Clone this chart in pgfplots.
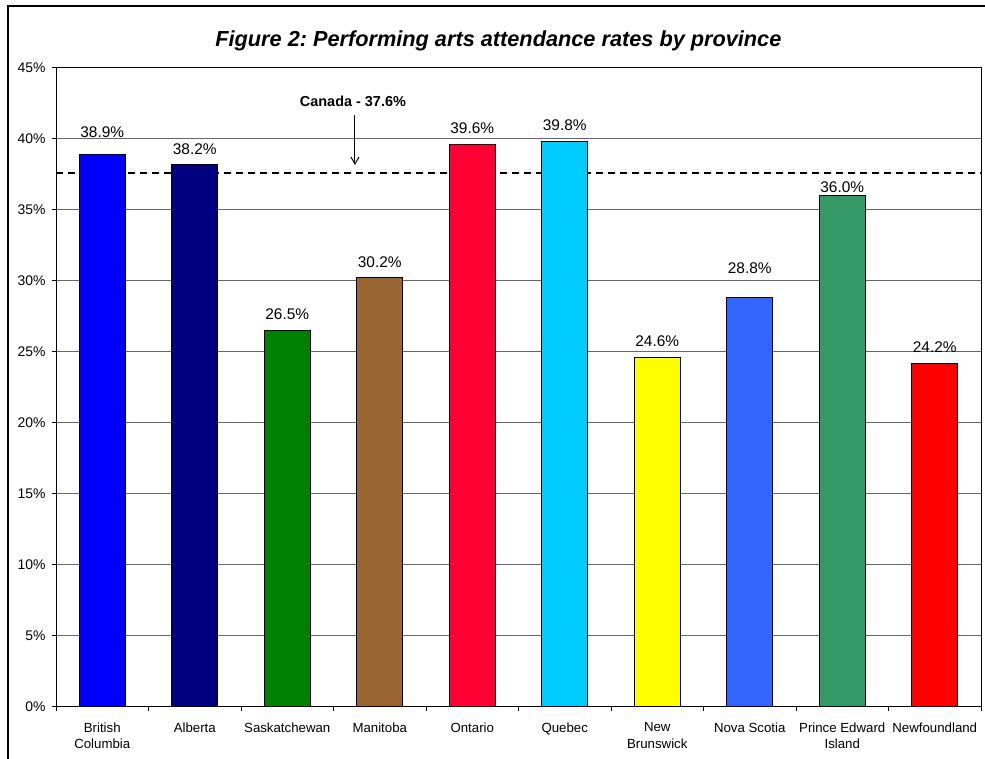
\documentclass[border=0pt]{standalone}
\usepackage{pgfplots}
\pgfplotsset{compat=1.18}
\usepackage{fontspec}
\setmainfont{Liberation Sans}
\usetikzlibrary{arrows.meta}
\definecolor{cBC}{HTML}{0000FF}
\definecolor{cAB}{HTML}{000080}
\definecolor{cSK}{HTML}{008000}
\definecolor{cMB}{HTML}{996633}
\definecolor{cON}{HTML}{FF0033}
\definecolor{cQC}{HTML}{00CCFF}
\definecolor{cNB}{HTML}{FFFF00}
\definecolor{cNS}{HTML}{3366FF}
\definecolor{cPE}{HTML}{339966}
\definecolor{cNF}{HTML}{FF0000}
\frenchspacing
\pgfkeys{/pgf/number format/assume math mode=true}
\pgfplotsset{provbar/.style 2 args={ybar, bar width=0.5, bar shift=0pt, fill=#1, draw=black, line width=1bp,
  nodes near coords={\pgfmathprintnumber[fixed,fixed zerofill,precision=1]{\pgfplotspointmeta}\%},
  nodes near coords style={font=\fontsize{15.5}{18}\selectfont, anchor=base, yshift=#2, text=black}}}
\begin{document}
\begin{tikzpicture}[x=1bp,y=1bp]
\useasboundingbox (0,0) rectangle (985,-759);
\draw[line width=2bp] (7.7,-780) -- (7.7,-6) -- (1000,-6);
\node[anchor=base, font=\fontsize{21.8}{26}\selectfont\bfseries\itshape] at (498.4,-46.7) {Figure 2: Performing arts attendance rates by province};
\begin{axis}[at={(56bp,-706.7bp)}, anchor=south west,
  width=925bp, height=639bp, scale only axis,
  xmin=-0.5, xmax=9.5, ymin=0, ymax=45,
  ytick={0,5,...,45},
  yticklabel={\pgfmathprintnumber{\tick}\%},
  xtick={0,...,9},
  xticklabels={British\\Columbia, Alberta, Saskatchewan, Manitoba, Ontario, Quebec, New\\Brunswick, Nova Scotia, Prince Edward\\Island, Newfoundland},
  minor xtick={-0.5,0.5,...,9.5},
  tick align=outside, xtick pos=bottom, ytick pos=left,
  major tick length=4bp, minor tick length=4bp,
  major x tick style={draw=none},
  minor x tick style={black, line width=1bp},
  ytick style={black, line width=1bp},
  ymajorgrids, grid style={black!60, line width=1bp},
  axis line style={black, line width=1bp},
  yticklabel style={font=\fontsize{14}{16}\selectfont, xshift=-3bp},
  xticklabel style={font=\fontsize{13.3}{16.5}\selectfont, align=center, anchor=north, yshift=-8.5bp},
  /pgf/number format/assume math mode=true,
  clip=false]
\addplot[black, line width=1.5bp, dash pattern=on 7bp off 5bp] coordinates {(-0.5,37.6) (9.5,37.6)};
\addplot[provbar={cBC}{16.7bp}] coordinates {(0,38.9)};
\addplot[provbar={cAB}{10bp}] coordinates {(1,38.2)};
\addplot[provbar={cSK}{10.7bp}] coordinates {(2,26.5)};
\addplot[provbar={cMB}{10.7bp}] coordinates {(3,30.2)};
\addplot[provbar={cON}{11bp}] coordinates {(4,39.6)};
\addplot[provbar={cQC}{11bp}] coordinates {(5,39.8)};
\addplot[provbar={cNB}{10.7bp}] coordinates {(6,24.6)};
\addplot[provbar={cNS}{24bp}] coordinates {(7,28.8)};
\addplot[provbar={cPE}{3bp}] coordinates {(8,36.0)};
\addplot[provbar={cNF}{11bp}] coordinates {(9,24.2)};
\draw[-{Straight Barb[length=7bp,width=8bp]}, line width=1bp] (axis cs:2.732,41.67) -- (axis cs:2.732,38.15);
\node[anchor=base, font=\fontsize{14.5}{17}\selectfont\bfseries] at (axis cs:2.71,42.3) {Canada - 37.6\%};
\end{axis}
\end{tikzpicture}
\end{document}
